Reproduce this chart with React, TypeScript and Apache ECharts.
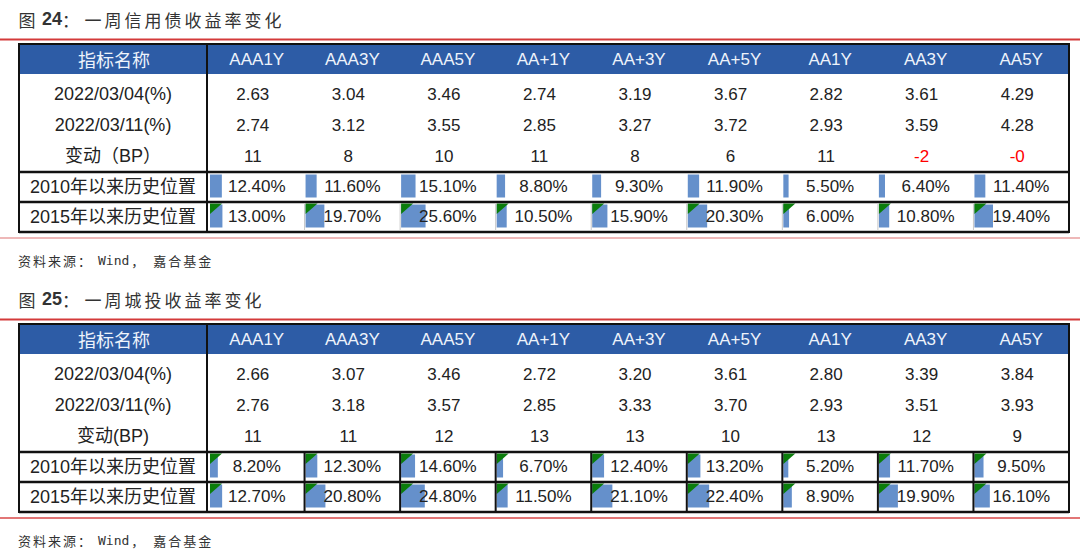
import React, { useEffect, useRef } from "react";
import * as echarts from "echarts";

// ---------------- data ----------------
const columns = ["AAA1Y", "AAA3Y", "AAA5Y", "AA+1Y", "AA+3Y", "AA+5Y", "AA1Y", "AA3Y", "AA5Y"];
const headerName = "指标名称";
const rowNamesCredit = ["2022/03/04(%)", "2022/03/11(%)", "变动（BP）", "2010年以来历史位置", "2015年以来历史位置"];
const rowNamesLgfv = ["2022/03/04(%)", "2022/03/11(%)", "变动(BP)", "2010年以来历史位置", "2015年以来历史位置"];

const creditYield0304 = [2.63, 3.04, 3.46, 2.74, 3.19, 3.67, 2.82, 3.61, 4.29];
const creditYield0311 = [2.74, 3.12, 3.55, 2.85, 3.27, 3.72, 2.93, 3.59, 4.28];
const creditChangeBP = ["11", "8", "10", "11", "8", "6", "11", "-2", "-0"];
const creditPct2010 = [12.4, 11.6, 15.1, 8.8, 9.3, 11.9, 5.5, 6.4, 11.4];
const creditPct2015 = [13.0, 19.7, 25.6, 10.5, 15.9, 20.3, 6.0, 10.8, 19.4];

const lgfvYield0304 = [2.66, 3.07, 3.46, 2.72, 3.2, 3.61, 2.8, 3.39, 3.84];
const lgfvYield0311 = [2.76, 3.18, 3.57, 2.85, 3.33, 3.7, 2.93, 3.51, 3.93];
const lgfvChangeBP = ["11", "11", "12", "13", "13", "10", "13", "12", "9"];
const lgfvPct2010 = [8.2, 12.3, 14.6, 6.7, 12.4, 13.2, 5.2, 11.7, 9.5];
const lgfvPct2015 = [12.7, 20.8, 24.8, 11.5, 21.1, 22.4, 8.9, 19.9, 16.1];

const titleCredit = { num: "24", text: "一周信用债收益率变化" };
const titleLgfv = { num: "25", text: "一周城投收益率变化" };
const sourceText = { pre: "资料来源：", wind: "Wind", sep: "，", post: "嘉合基金" };
const positionRows = ["2010", "2015"];

// ---------------- layout / style ----------------
const NUM_FONT = '"Liberation Sans", "Noto Sans CJK SC", sans-serif';
const CJK_FONT = '"Noto Sans CJK SC", sans-serif';
const BLUE = "#2d5ca6";
const BAR = "#6590cb";
const GREEN = "#0b7d0b";
const TXT = "#222222";
const L = 19;
const R = 1069;
const C1 = 207;
const D0 = 209;
const CW = (R - D0) / 9;
const colCenter = (j: number) => D0 + CW * (j + 0.5);
const OFF2 = 280;

function txt(x: number, y: number, text: string, extra: any = {}) {
  return {
    type: "text",
    x,
    y,
    z: 20,
    silent: true,
    style: {
      text,
      x: 0,
      y: 0,
      align: "center",
      verticalAlign: "middle",
      textAlign: "center",
      textVerticalAlign: "middle",
      fontSize: 17,
      fontFamily: NUM_FONT,
      fill: TXT,
      ...extra,
    },
  };
}

function line(x1: number, y1: number, x2: number, y2: number, stroke: string, lineWidth: number) {
  return { type: "line", z: 15, silent: true, shape: { x1, y1, x2, y2 }, style: { stroke, lineWidth } };
}

function charTokens(s: string, key: string) {
  return s
    .split("")
    .map((c) => `{${key}|${c}}`)
    .join("");
}

function tableGraphics(
  off: number,
  title: { num: string; text: string },
  rowNames: string[],
  y1: number[],
  y2: number[],
  bp: string[],
  p2010: number[],
  p2015: number[],
  lgfvStyle: boolean,
  bottomRed: string
) {
  const els: any[] = [];
  // title
  els.push({
    type: "text",
    x: 17,
    y: 19 + off,
    z: 20,
    style: {
      text: `{c|图}{n|${title.num}}{k|：}` + charTokens(title.text, "c"),
      x: 0,
      y: 0,
      align: "left",
      verticalAlign: "middle",
      textAlign: "left",
      textVerticalAlign: "middle",
      rich: {
        c: { fontSize: 17, lineHeight: 22, fontFamily: CJK_FONT, fill: "#333", color: "#333", padding: [0, 1.5, 0, 1.5] },
        k: { fontSize: 17, lineHeight: 22, fontFamily: CJK_FONT, fill: "#333", color: "#333", padding: [0, 4, 0, 0] },
        n: {
          fontSize: 18,
          lineHeight: 22,
          fontWeight: "bold",
          fontFamily: NUM_FONT,
          fill: "#333",
          color: "#333",
          padding: [0, 0, 0, 5],
        },
      },
    },
  });
  // red lines
  els.push(line(0, 39.5 + off, 1080, 39.5 + off, "#d43a3a", 2));
  els.push(line(0, 238 + off, 1080, 238 + off, bottomRed, 1.6));
  // source
  els.push({
    type: "text",
    x: 17,
    y: 260 + off,
    z: 20,
    style: {
      text:
        charTokens(sourceText.pre, "c") +
        `{w|${sourceText.wind}}` +
        `{s|${sourceText.sep}}` +
        charTokens(sourceText.post, "c"),
      x: 0,
      y: 0,
      align: "left",
      verticalAlign: "middle",
      textAlign: "left",
      textVerticalAlign: "middle",
      rich: {
        c: { fontSize: 13, lineHeight: 16, fontFamily: CJK_FONT, fill: "#333", color: "#333", padding: [0, 1, 0, 1] },
        w: {
          fontSize: 13,
          lineHeight: 16,
          fontFamily: '"DejaVu Sans Mono", monospace',
          fill: "#333",
          color: "#333",
          padding: [0, 1, 0, 6],
        },
        s: { fontSize: 13, lineHeight: 16, fontFamily: CJK_FONT, fill: "#333", color: "#333", padding: [0, 8, 0, 1] },
      },
    },
  });
  // header background
  els.push({
    type: "rect",
    z: 0,
    silent: true,
    shape: { x: L, y: 45 + off, width: R - L, height: 29 },
    style: { fill: BLUE },
  });
  // outer border
  els.push({
    type: "rect",
    z: 15,
    silent: true,
    shape: { x: L, y: 44 + off, width: R - L, height: 188 },
    style: { fill: "none", stroke: "#111", lineWidth: 2 },
  });
  els.push(line(C1, 44 + off, C1, 232 + off, "#111", 2));
  els.push(line(L, 172 + off, R, 172 + off, "#111", 2.5));
  els.push(line(L, 202 + off, R, 202 + off, "#111", 2.5));
  els.push(line(L, 232 + off, R, 232 + off, "#111", 2.5));
  for (let k = 1; k < 9; k++) {
    const x = D0 + CW * k;
    if (lgfvStyle) {
      els.push(line(x, 172 + off, x, 232 + off, "#111", 2));
    } else {
      els.push(line(x, 203 + off, x, 231 + off, "#c8c8c8", 1));
    }
  }
  // header texts
  els.push(txt(114, 59 + off, headerName, { fill: "#eef3fb", fontSize: 18, fontFamily: CJK_FONT }));
  columns.forEach((c, j) => els.push(txt(colCenter(j), 59 + off, c, { fill: "#eef3fb" })));
  // row labels
  const rowY = [94, 125, 156, 186.5, 216.5];
  rowNames.forEach((n, i) => els.push(txt(113, rowY[i] + off, n, { fontSize: 18 })));
  // values
  for (let j = 0; j < 9; j++) {
    const cx = colCenter(j);
    els.push(txt(cx - 4, rowY[0] + off, y1[j].toFixed(2)));
    els.push(txt(cx - 4, rowY[1] + off, y2[j].toFixed(2)));
    const neg = bp[j].startsWith("-");
    els.push(txt(cx - 4, rowY[2] + off, bp[j], { fill: neg ? "#ff0000" : TXT }));
    els.push(txt(cx, rowY[3] + off, p2010[j].toFixed(2) + "%"));
    els.push(txt(cx, rowY[4] + off, p2015[j].toFixed(2) + "%"));
  }
  return els;
}

function barData(p2010: number[], p2015: number[], tri2010: boolean) {
  const out: number[][] = [];
  p2010.forEach((v, j) => out.push([j * 100, 0, v, tri2010 ? 1 : 0]));
  p2015.forEach((v, j) => out.push([j * 100, 1, v, 1]));
  return out;
}

const renderBar = (params: any, api: any) => {
  const x0 = api.value(0);
  const r = api.value(1);
  const v = api.value(2);
  const tri = api.value(3);
  const p0 = api.coord([x0, r]);
  const p1 = api.coord([x0 + v, r]);
  const band = api.size([0, 1])[1];
  const top = p0[1] - band / 2;
  const left = p0[0] + 1;
  const children: any[] = [
    {
      type: "rect",
      shape: { x: left, y: top + 2.5, width: p1[0] - p0[0], height: band - 7 },
      style: { fill: BAR },
    },
  ];
  if (tri) {
    children.push({
      type: "polygon",
      shape: {
        points: [
          [left, top + 1.5],
          [left + 12, top + 1.5],
          [left, top + 12],
        ],
      },
      style: { fill: GREEN },
    });
  }
  return { type: "group", children };
};

export default function App() {
  const ref = useRef<HTMLDivElement>(null);
  useEffect(() => {
    if (!ref.current) return;
    const chart = echarts.init(ref.current, undefined, { renderer: "svg" });
    const graphics = [
      ...tableGraphics(0, titleCredit, rowNamesCredit, creditYield0304, creditYield0311, creditChangeBP, creditPct2010, creditPct2015, false, "#e8a0a0"),
      ...tableGraphics(OFF2, titleLgfv, rowNamesLgfv, lgfvYield0304, lgfvYield0311, lgfvChangeBP, lgfvPct2010, lgfvPct2015, true, "#d94848"),
    ];
    const mkGrid = (top: number) => ({ left: D0, top, width: R - D0, height: 60, containLabel: false, show: false });
    const mkX = (gi: number) => ({
      type: "value",
      gridIndex: gi,
      min: 0,
      max: 900,
      show: false,
      splitLine: { show: false },
    });
    const mkY = (gi: number) => ({
      type: "category",
      gridIndex: gi,
      data: positionRows,
      inverse: true,
      show: false,
    });
    chart.setOption({
      animation: false,
      backgroundColor: "#ffffff",
      grid: [mkGrid(172), mkGrid(172 + OFF2)],
      xAxis: [mkX(0), mkX(1)],
      yAxis: [mkY(0), mkY(1)],
      series: [
        {
          type: "custom",
          xAxisIndex: 0,
          yAxisIndex: 0,
          z: 1,
          silent: true,
          renderItem: renderBar,
          encode: { x: 0, y: 1 },
          data: barData(creditPct2010, creditPct2015, false),
        },
        {
          type: "custom",
          xAxisIndex: 1,
          yAxisIndex: 1,
          z: 1,
          silent: true,
          renderItem: renderBar,
          encode: { x: 0, y: 1 },
          data: barData(lgfvPct2010, lgfvPct2015, true),
        },
      ],
      graphic: { elements: graphics },
    });
    return () => chart.dispose();
  }, []);
  return (
    <div
      ref={ref}
      style={{ position: "fixed", left: 0, top: 0, width: 1080, height: 553, background: "#fff" }}
    />
  );
}
